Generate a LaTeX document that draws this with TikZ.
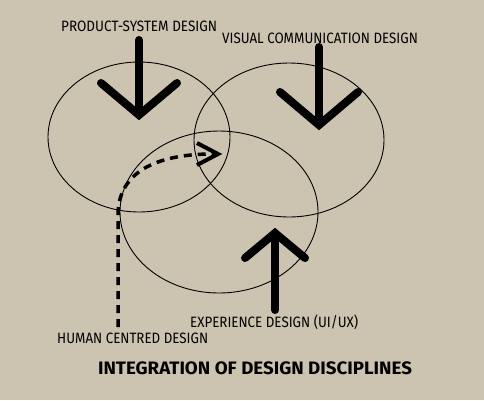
\documentclass[tikz,border=0pt]{standalone}
\usepackage{graphicx}
\usepackage{fontspec}
\setmainfont{Fira Sans}
\usetikzlibrary{positioning}
\definecolor{paper}{RGB}{205,195,177}
\newcommand{\narrowtext}[2]{\scalebox{#1}[1]{#2}}

\begin{document}
\begin{tikzpicture}[x=1pt,y=-1pt]
\tikzstyle{every node} = [inner sep=0pt, anchor=west]
\tikzstyle{tag} = [font=\fontsize{15}{15}\selectfont]
\tikzstyle{ring} = [draw, line width=0.9pt]
\tikzstyle{fatarrow} = [line width=8pt, line cap=round, line join=miter]
\fill[paper] (0,0) rectangle (484,400);
\useasboundingbox (0,0) rectangle (484,400);
% the three disciplines
\draw[ring] (139,137) ellipse [x radius=91, y radius=75];
\draw[ring] (289,140) ellipse [x radius=95, y radius=77];
\draw[ring] (219,212) ellipse [x radius=99, y radius=81];
% labels
\node[tag] (ps) at (61,26) {\narrowtext{0.9}{PRODUCT-SYSTEM DESIGN}};
\node[tag] (vc) at (222,38) {\narrowtext{0.89}{VISUAL COMMUNICATION DESIGN}};
\node[tag] (ex) at (190,322) {\narrowtext{0.89}{EXPERIENCE DESIGN (UI/UX)}};
\node[tag] (hc) at (57,338) {\narrowtext{0.89}{HUMAN CENTRED DESIGN}};
\node[anchor=center, font=\bfseries\fontsize{18}{18}\selectfont] (title) at (255,368)
  {\narrowtext{1.04}{INTEGRATION OF DESIGN DISCIPLINES}};
% big arrows
\foreach \name/\x/\from/\to/\dx/\dy in {ps/139/40/115/38/32, vc/319/47/125/39/33, ex/275/310/233/30/-25}
{
\coordinate (\name tail) at (\x,\from);
\coordinate (\name tip) at (\x,\to);
\draw[fatarrow] (\name tail) -- (\name tip);
\draw[fatarrow] ([xshift=-\dx pt, yshift=\dy pt]\name tip) -- (\name tip) -- ([xshift=\dx pt, yshift=\dy pt]\name tip);
}
% human centred path
\coordinate (hc start) at (118,327);
\coordinate (hc bend) at (118,215);
\coordinate (hc tip) at (218,154);
\draw[line width=3.5pt, dash pattern=on 8pt off 6pt] (hc start) -- (hc bend)
  .. controls (118,170) and (160,153) .. (hc tip);
\draw[line width=4pt, line join=miter] ([xshift=-21pt, yshift=11pt]hc tip) -- (hc tip) -- ([xshift=-21pt, yshift=-11pt]hc tip);
\end{tikzpicture}
\end{document}
